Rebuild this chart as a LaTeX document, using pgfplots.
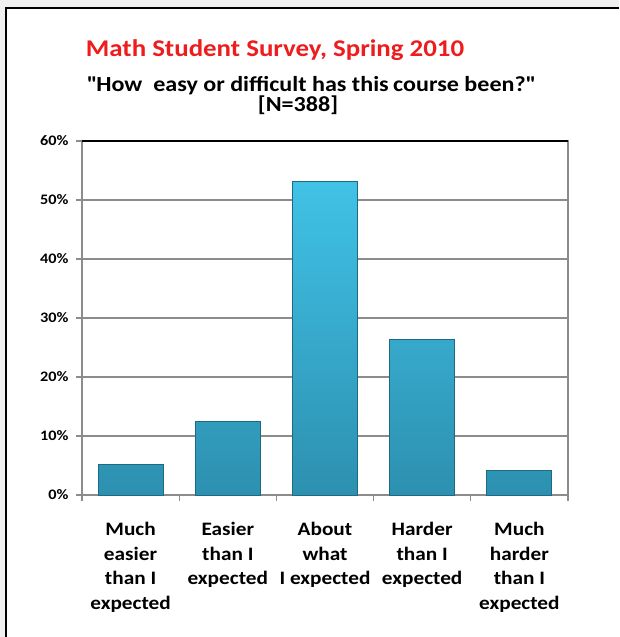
\documentclass[border=0pt]{standalone}
\usepackage{pgfplots}
\pgfplotsset{compat=1.18}
\usepackage{fontspec}
\setmainfont{Carlito}[FakeStretch=1.12]
\definecolor{titlered}{HTML}{EE1C1C}
\definecolor{bartop}{HTML}{40C2E6}
\definecolor{barbot}{HTML}{2D90B0}
\definecolor{baredge}{HTML}{1E6A82}
\definecolor{gridgray}{HTML}{8C8C8C}
\begin{document}
\begin{tikzpicture}[x=1pt,y=1pt]
\useasboundingbox (0,0) rectangle (619,637);
\fill[gray!12] (0,0) rectangle (619,637);
\fill[white] (6,0) rectangle (619,629);
\draw[line width=2.2pt] (6,0) -- (6,629) -- (619,629);
\node[anchor=base, text=titlered, inner sep=0pt, font=\bfseries\fontsize{24}{28}\selectfont] at (275,580) {Math Student Survey, Spring 2010};
\node[anchor=base, inner sep=0pt, font=\bfseries\fontsize{21.5}{24}\selectfont] at (311,545) {\textquotedbl How\ \ easy or difficult\ has this\kern-1pt\ course been?\textquotedbl};
\node[anchor=base, inner sep=0pt, font=\bfseries\fontsize{21.5}{24}\selectfont] at (298,525) {[N=388]};
\begin{axis}[
  at={(82pt,142pt)}, anchor=south west,
  scale only axis, width=486pt, height=354pt,
  ybar, bar width=65pt,
  xmin=-0.5, xmax=4.5, ymin=0, ymax=60,
  xtick={-0.5,0.5,1.5,2.5,3.5,4.5},
  x tick label as interval,
  xticklabels={{Much\\easier\\than I\\expected},{Easier\\than I\\expected},{About\\what\\I expected},{Harder\\than I\\expected},{Much\\harder\\than I\\expected}},
  ytick={0,10,20,30,40,50,60},
  yticklabel={\pgfmathprintnumber{\tick}\%},
  /pgf/number format/assume math mode=true,
  xtick pos=lower, ytick pos=left,
  tick align=outside, major tick length=6pt,
  ymajorgrids, grid style={gridgray, line width=1.3pt},
  axis line style={gridgray, line width=1.3pt},
  tick style={gridgray, line width=1.1pt},
  x tick label style={align=center, font=\bfseries\fontsize{19}{24.5}\selectfont, anchor=north, yshift=-18pt},
  y tick label style={font=\bfseries\fontsize{14.5}{18}\selectfont, xshift=-4pt},
]
\addplot[draw=baredge, line width=1pt, top color=bartop, bottom color=barbot]
  coordinates {(0,5.2) (1,12.4) (2,53.1) (3,26.3) (4,4.1)};
\draw[black, line width=1.6pt] (rel axis cs:0,1) -- (rel axis cs:1,1);
\end{axis}
\end{tikzpicture}
\end{document}
